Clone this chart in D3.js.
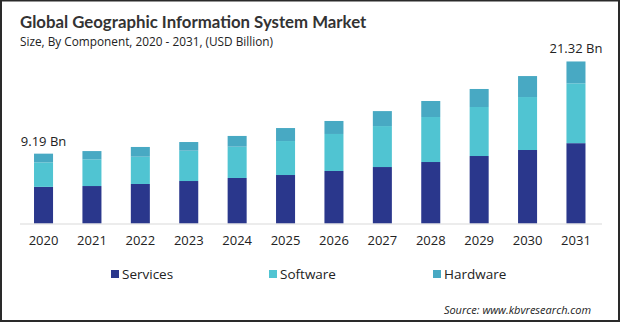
<!DOCTYPE html>
<html>
<head>
<meta charset="utf-8">
<script src="https://cdn.jsdelivr.net/npm/d3@7"></script>
<style>
  body { margin: 0; background: #fff; }
  text { font-family: "Open Sans", "Noto Sans", sans-serif; fill: #222; }
</style>
</head>
<body>
<script>
// data (USD Billion)
var years = ["2020","2021","2022","2023","2024","2025","2026","2027","2028","2029","2030","2031"];
var services = [4.82, 4.93, 5.20, 5.59, 5.99, 6.38, 6.91, 7.43, 8.09, 8.88, 9.67, 10.57];
var software = [3.22, 3.51, 3.59, 3.99, 4.12, 4.47, 4.87, 5.39, 5.92, 6.45, 6.97, 7.87];
var hardware = [1.15, 1.09, 1.28, 1.14, 1.41, 1.71, 1.71, 1.97, 2.11, 2.37, 2.76, 2.88];
var seriesNames = ["Services", "Software", "Hardware"];
var endLabels = {"2020": "9.19 Bn", "2031": "21.32 Bn"};

var W = 620, H = 322;
var colors = ["#2a378c", "#50c4d2", "#48a9c3"];

var svg = d3.select("body").append("svg")
    .attr("width", W)
    .attr("height", H);

// frame
svg.append("rect")
    .attr("x", 1).attr("y", 0.5)
    .attr("width", W - 2).attr("height", H - 1.5)
    .attr("fill", "none")
    .attr("stroke", "#2a2a2a")
    .attr("stroke-width", 2);

// titles
svg.append("text")
    .attr("x", 20).attr("y", 28)
    .style("font-family", "Lato, 'Open Sans', sans-serif")
    .style("font-size", "16.8px")
    .style("font-weight", "bold")
    .style("fill", "#333")
    .text("Global Geographic Information System Market");
svg.append("text")
    .attr("x", 20).attr("y", 46)
    .style("font-size", "11.8px")
    .text("Size, By Component,  2020 - 2031, (USD Billion)");

var x = d3.scaleBand()
    .domain(years)
    .range([19.5, 600])
    .paddingInner(0.607)
    .paddingOuter(0.3);

var y = d3.scaleLinear()
    .domain([0, 25])
    .range([223.5, 33.5]);

// stack the three series
var rows = years.map(function(yr, i) {
    return {year: yr, Services: services[i], Software: software[i], Hardware: hardware[i]};
});
var stacked = d3.stack().keys(seriesNames)(rows);

svg.append("g").selectAll("g")
    .data(stacked)
    .enter()
    .append("g")
    .attr("fill", function(d, i) { return colors[i]; })
    .selectAll("rect")
    .data(function(d) { return d; })
    .enter()
    .append("rect")
    .attr("x", function(d) { return x(d.data.year); })
    .attr("y", function(d) { return y(d[1]); })
    .attr("width", x.bandwidth())
    .attr("height", function(d) { return y(d[0]) - y(d[1]); });

// baseline
svg.append("line")
    .attr("x1", 20).attr("x2", 602)
    .attr("y1", y(0) + 0.5).attr("y2", y(0) + 0.5)
    .attr("stroke", "#d9d9d9");

// x axis labels
var xAxis = d3.axisBottom(x).tickSize(0).tickPadding(12);
var gx = svg.append("g")
    .attr("transform", "translate(0," + y(0) + ")")
    .call(xAxis);
gx.select(".domain").remove();
gx.selectAll("text")
    .style("font-size", "13px")
    .style("font-family", "'Open Sans', 'Noto Sans', sans-serif")
    .attr("fill", "#222");

// value labels on first and last bars
var last = stacked[stacked.length - 1];
svg.append("g").selectAll("text")
    .data(last.filter(function(d) { return endLabels[d.data.year]; }))
    .enter()
    .append("text")
    .attr("x", function(d) { return x(d.data.year) + x.bandwidth() / 2; })
    .attr("y", function(d) { return y(d[1]) - 8; })
    .attr("text-anchor", "middle")
    .style("font-size", "13px")
    .text(function(d) { return endLabels[d.data.year]; });

// legend
var legendX = [111, 269, 433];
var lg = svg.append("g").selectAll("g")
    .data(seriesNames)
    .enter()
    .append("g")
    .attr("transform", function(d, i) { return "translate(" + legendX[i] + ",270)"; });
lg.append("rect")
    .attr("width", 8).attr("height", 8)
    .attr("fill", function(d, i) { return colors[i]; });
lg.append("text")
    .attr("x", 11).attr("y", 8.5)
    .style("font-size", "13.5px")
    .text(function(d) { return d; });

// source
svg.append("text")
    .attr("x", 591).attr("y", 314)
    .attr("text-anchor", "end")
    .style("font-size", "11px")
    .style("font-style", "italic")
    .text("Source: www.kbvresearch.com");
</script>
</body>
</html>
